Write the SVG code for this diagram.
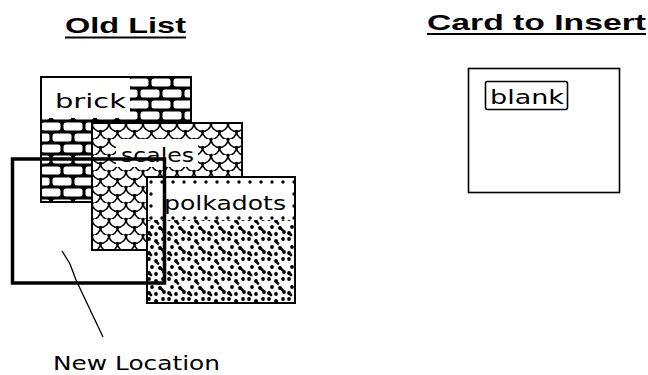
<svg xmlns="http://www.w3.org/2000/svg" width="648" height="375" viewBox="0 0 648 375">
  <defs>
    <pattern id="brick" patternUnits="userSpaceOnUse" x="40" y="77" width="22" height="22">
      <rect width="22" height="22" fill="#000"/>
      <rect x="1.5" y="1.5" width="19" height="8" rx="2.5" fill="#fff"/>
      <rect x="-9.5" y="12.5" width="19" height="8" rx="2.5" fill="#fff"/>
      <rect x="12.5" y="12.5" width="19" height="8" rx="2.5" fill="#fff"/>
    </pattern>
    <pattern id="scales" patternUnits="userSpaceOnUse" x="92" y="123" width="17" height="16">
      <rect width="17" height="16" fill="#fff"/>
      <path d="M0,0 A8.5,8.5 0 0 0 17,0 M-8.5,8 A8.5,8.5 0 0 0 8.5,8 M8.5,8 A8.5,8.5 0 0 0 25.5,8 M-8.5,16 A8.5,8.5 0 0 0 8.5,16 M8.5,16 A8.5,8.5 0 0 0 25.5,16" fill="none" stroke="#000" stroke-width="1.5"/>
      <circle cx="8.5" cy="8.5" r="1.7" fill="#000"/>
      <circle cx="0" cy="0.5" r="1.7" fill="#000"/>
      <circle cx="17" cy="0.5" r="1.7" fill="#000"/>
      <circle cx="0" cy="16.5" r="1.7" fill="#000"/>
      <circle cx="17" cy="16.5" r="1.7" fill="#000"/>
    </pattern>
    <pattern id="polka" patternUnits="userSpaceOnUse" x="147" y="177" width="20" height="20">
      <rect width="20" height="20" fill="#fff"/>
      <g fill="#000">
        <circle cx="2" cy="2" r="1.9"/>
        <circle cx="9" cy="4" r="1.9"/>
        <circle cx="16" cy="2" r="1.9"/>
        <circle cx="5" cy="10" r="1.9"/>
        <circle cx="13" cy="11" r="1.9"/>
        <circle cx="2" cy="16" r="1.9"/>
        <circle cx="9" cy="17" r="1.9"/>
        <circle cx="17" cy="15" r="1.9"/>
      </g>
      <g stroke="#000" stroke-width="2.8" stroke-linecap="round">
        <line x1="9" y1="4" x2="11" y2="6.5"/>
        <line x1="13" y1="11" x2="15.5" y2="13"/>
        <line x1="2" y1="16" x2="4" y2="18"/>
      </g>
    </pattern>
    <pattern id="polkaSparse" patternUnits="userSpaceOnUse" x="147" y="177" width="11" height="12">
      <rect width="11" height="12" fill="#fff"/>
      <circle cx="4" cy="5" r="1.7" fill="#000"/>
    </pattern>
  </defs>
  <style>
    .card { stroke: #000; stroke-width: 2; }
    .title { font-family: "Liberation Sans", "DejaVu Sans", sans-serif; font-weight: bold; font-size: 22px; fill: #000; }
    .lbl { font-family: "DejaVu Sans", "Liberation Sans", sans-serif; font-size: 19px; fill: #000; }
    .ul { stroke: #000; stroke-width: 2; }
  </style>

  <g id="title-old-list">
    <text class="title" x="65" y="33" textLength="121" lengthAdjust="spacingAndGlyphs">Old List</text>
    <line class="ul" x1="65" y1="37.5" x2="186" y2="37.5"/>
  </g>

  <g id="title-card-to-insert">
    <text class="title" x="427" y="30" textLength="219" lengthAdjust="spacingAndGlyphs">Card to Insert</text>
    <line class="ul" x1="427" y1="34" x2="646" y2="34"/>
  </g>

  <g id="card-brick">
    <rect class="card" x="41" y="77" width="150" height="125" fill="url(#brick)"/>
    <rect x="42" y="78" width="88" height="40" fill="#fff"/>
    <text class="lbl" x="55" y="108" textLength="71" lengthAdjust="spacingAndGlyphs">brick</text>
  </g>

  <g id="card-scales">
    <rect class="card" x="92" y="123" width="150" height="127" fill="url(#scales)"/>
    <rect x="116" y="139" width="82" height="28" fill="#fff"/>
    <text class="lbl" x="121" y="162" textLength="73" lengthAdjust="spacingAndGlyphs">scales</text>
  </g>

  <g id="card-polkadots">
    <rect class="card" x="147" y="177" width="148" height="126" fill="url(#polka)"/>
    <rect x="148" y="178" width="146" height="42" fill="url(#polkaSparse)"/>
    <rect x="160" y="190" width="131" height="26" fill="#fff"/>
    <text class="lbl" x="164" y="210" textLength="122" lengthAdjust="spacingAndGlyphs">polkadots</text>
  </g>

  <g id="new-location">
    <rect x="12.5" y="159" width="152" height="124" fill="none" stroke="#000" stroke-width="3.5"/>
    <text class="lbl" x="53" y="370" font-size="22" textLength="167" lengthAdjust="spacingAndGlyphs">New Location</text>
  </g>

  <g id="connectors">
    <polyline points="62,251 70,264 76,280 103,337" fill="none" stroke="#000" stroke-width="1.3"/>
  </g>

  <g id="card-insert">
    <rect x="468.5" y="68.5" width="151" height="124" fill="#fff" stroke="#000" stroke-width="1.6"/>
    <rect x="485.5" y="81.5" width="82" height="28" rx="2" fill="#fff" stroke="#000" stroke-width="1.6"/>
    <text class="lbl" x="490" y="104" font-size="21" textLength="74" lengthAdjust="spacingAndGlyphs">blank</text>
  </g>
</svg>
